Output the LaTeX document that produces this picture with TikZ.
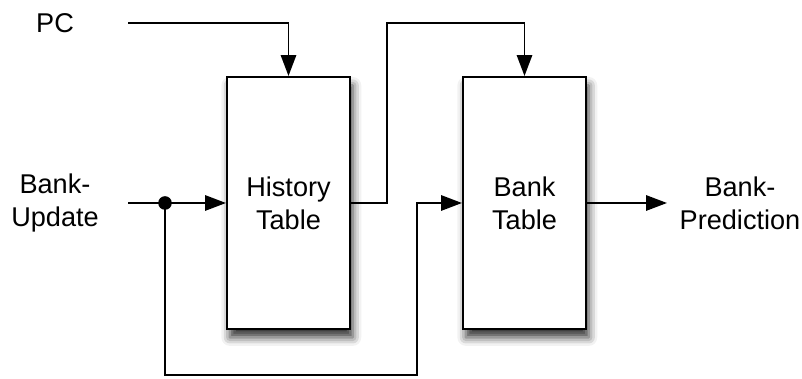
\documentclass[tikz,border=0pt]{standalone}
\usepackage{fontspec}
\setmainfont{Liberation Sans}
\usepackage{tikz}
\usetikzlibrary{arrows.meta,positioning,shadows.blur}

\begin{document}
\begin{tikzpicture}[
    tablebox/.style={rectangle, draw=black, fill=white, line width=1.4pt, minimum width=3.075cm, minimum height=6.3cm, align=center, font=\fontsize{19.3}{23.5}\selectfont,
        blur shadow={shadow xshift=2pt, shadow yshift=-6pt, shadow blur radius=6pt, shadow opacity=80}},
    lbl/.style={align=center, font=\fontsize{19.3}{23.5}\selectfont},
    arrow/.style={-{Triangle[length=0.52cm,width=0.38cm]}, line width=1.4pt},
    wire/.style={line width=1.4pt}
]
    \useasboundingbox (0,0) rectangle (20.05,9.475);

    % Nodes
    \node[tablebox] (hist) at (7.2125,4.4) {History\\Table};
    \node[tablebox] (bank) at (13.1125,4.4) {Bank\\Table};

    % Labels
    \node[lbl] (pc) at (1.375,8.9) {PC};
    \node[lbl] (upd) at (1.375,4.4) {Bank-\\Update};
    \node[lbl] (pred) at (18.5,4.4) {Bank-\\Prediction};

    % Wire ends and corners
    \coordinate (pcin) at (3.2,8.9);
    \coordinate (updin) at (3.2,4.4);
    \coordinate (split) at (4.125,4.4);
    \coordinate (predout) at (16.675,4.4);
    \coordinate (loopx) at (10.425,0.1);
    \coordinate (histx) at (9.675,8.9);

    % Arrows
    \draw[arrow] (pcin) -| (hist.north);
    \draw[wire] (updin) -- (split);
    \draw[arrow] (split) -- (hist.west);
    \draw[arrow] (hist.east) -| (histx) -| (bank.north);
    \draw[arrow] (split) |- (loopx) |- (bank.west);
    \draw[arrow] (bank.east) -- (predout);
    \fill (split) circle (0.17cm);

\end{tikzpicture}
\end{document}
